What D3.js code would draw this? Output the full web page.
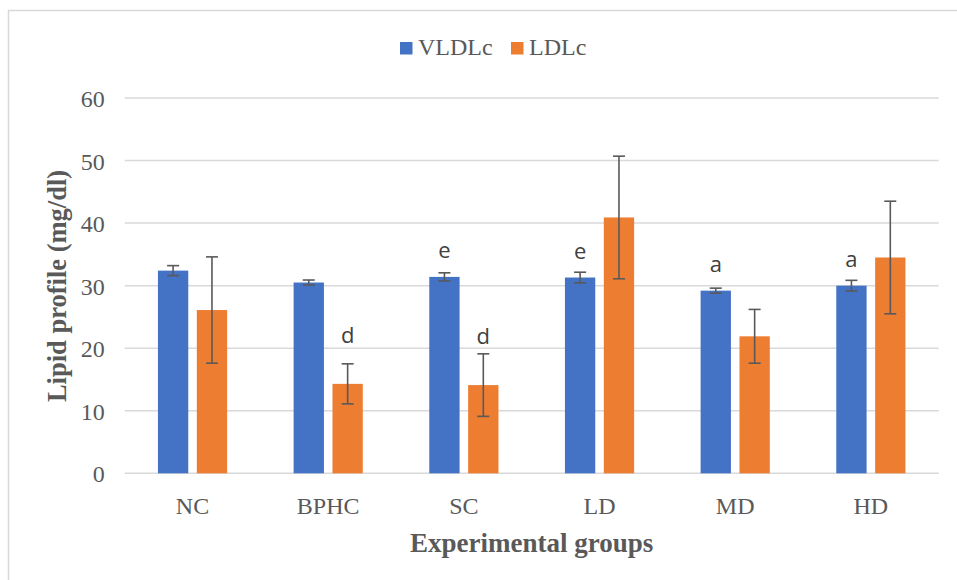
<!DOCTYPE html>
<html>
<head>
<meta charset="utf-8">
<script src="https://cdn.jsdelivr.net/npm/d3@7"></script>
<style>
  body { margin: 0; background: #fff; }
  svg { display: block; }
</style>
</head>
<body>
<svg id="chart"></svg>
<script>
// Chart size
const width = 957;
const height = 580;

// Data
const groups = ["NC", "BPHC", "SC", "LD", "MD", "HD"];
const seriesNames = ["VLDLc", "LDLc"];
const vldlc = [32.4, 30.5, 31.4, 31.3, 29.2, 30.0];
const vldlcErr = [0.8, 0.4, 0.65, 0.85, 0.4, 0.85];
const ldlc = [26.1, 14.3, 14.1, 40.9, 21.9, 34.5];
const ldlcErr = [8.5, 3.2, 5.0, 9.8, 4.3, 9.0];
const vldlcLetters = ["", "", "e", "e", "a", "a"];
const ldlcLetters = ["", "d", "d", "", "", ""];
const yTicks = [0, 10, 20, 30, 40, 50, 60];

const colors = { VLDLc: "#4472C4", LDLc: "#ED7D31" };
const serif = "'Liberation Serif', 'Times New Roman', serif";

// Build rows for drawing
const rows = groups.map((g, i) => ({
    group: g,
    bars: [
        { key: "VLDLc", value: vldlc[i], err: vldlcErr[i], letter: vldlcLetters[i], lift: 18.5 },
        { key: "LDLc", value: ldlc[i], err: ldlcErr[i], letter: ldlcLetters[i], lift: 41 }
    ]
}));

const margin = { top: 98, right: 18.3, bottom: 106.7, left: 124.7 };

const svg = d3.select("#chart")
    .attr("width", width)
    .attr("height", height);

// Outer chart frame (runs off the right and bottom edges)
svg.append("rect")
    .attr("x", 8.5).attr("y", 10.5)
    .attr("width", 1000).attr("height", 1000)
    .attr("fill", "none")
    .attr("stroke", "#D9D9D9")
    .attr("stroke-width", 1.5);

// Scales
const x0 = d3.scaleBand()
    .domain(groups)
    .range([margin.left, width - margin.right])
    .paddingInner(0.49)
    .paddingOuter(0.245);

const x1 = d3.scaleBand()
    .domain(seriesNames)
    .range([0, x0.bandwidth()])
    .paddingInner(0.22);

const y = d3.scaleLinear()
    .domain([0, 60])
    .range([height - margin.bottom, margin.top]);

// Gridlines
svg.append("g")
    .selectAll("line")
    .data(yTicks)
    .enter().append("line")
    .attr("x1", margin.left)
    .attr("x2", width - margin.right)
    .attr("y1", d => y(d))
    .attr("y2", d => y(d))
    .attr("stroke", "#D9D9D9")
    .attr("stroke-width", 1.5);

// Y axis labels
const yAxis = svg.append("g")
    .attr("transform", `translate(${margin.left - 20},0)`)
    .call(d3.axisLeft(y).tickValues(yTicks).tickSize(0).tickPadding(0));
yAxis.select(".domain").remove();
yAxis.selectAll("text")
    .attr("font-family", serif)
    .attr("font-size", 24)
    .attr("fill", "#595959")
    .attr("dy", "0.36em");

// X axis labels
const xAxis = svg.append("g")
    .attr("transform", `translate(0,${height - margin.bottom})`)
    .call(d3.axisBottom(x0).tickSize(0).tickPadding(0));
xAxis.select(".domain").remove();
xAxis.selectAll("text")
    .attr("font-family", serif)
    .attr("font-size", 24)
    .attr("fill", "#595959")
    .attr("dy", 0)
    .attr("y", 41);

// Bars
const groupSel = svg.append("g")
    .selectAll("g")
    .data(rows)
    .enter().append("g")
    .attr("transform", d => `translate(${x0(d.group)},0)`);

groupSel.selectAll("rect")
    .data(d => d.bars)
    .enter().append("rect")
    .attr("x", d => x1(d.key))
    .attr("width", x1.bandwidth())
    .attr("y", d => y(d.value))
    .attr("height", d => y(0) - y(d.value))
    .attr("fill", d => colors[d.key]);

// Error bars
const err = groupSel.selectAll("g.err")
    .data(d => d.bars)
    .enter().append("g")
    .attr("class", "err")
    .attr("stroke", "#595959")
    .attr("stroke-width", 1.6);

err.append("line")
    .attr("x1", d => x1(d.key) + x1.bandwidth() / 2)
    .attr("x2", d => x1(d.key) + x1.bandwidth() / 2)
    .attr("y1", d => y(d.value + d.err))
    .attr("y2", d => y(d.value - d.err));

err.selectAll("line.cap")
    .data(d => [d.value + d.err, d.value - d.err].map(v => ({ key: d.key, v })))
    .enter().append("line")
    .attr("class", "cap")
    .attr("x1", d => x1(d.key) + x1.bandwidth() / 2 - 6)
    .attr("x2", d => x1(d.key) + x1.bandwidth() / 2 + 6)
    .attr("y1", d => y(d.v))
    .attr("y2", d => y(d.v));

// Significance letters
groupSel.selectAll("text.sig")
    .data(d => d.bars.filter(b => b.letter))
    .enter().append("text")
    .attr("class", "sig")
    .attr("x", d => x1(d.key) + x1.bandwidth() / 2)
    .attr("y", d => y(d.value) - d.lift)
    .attr("text-anchor", "middle")
    .attr("font-family", "'Open Sans', 'Liberation Sans', sans-serif")
    .attr("font-size", 22)
    .attr("fill", "#404040")
    .text(d => d.letter);

// Legend
const legend = svg.append("g")
    .selectAll("g")
    .data(seriesNames)
    .enter().append("g")
    .attr("transform", (d, i) => `translate(${[400, 511][i]},0)`);

legend.append("rect")
    .attr("x", 0).attr("y", 42)
    .attr("width", 12.5).attr("height", 12.5)
    .attr("fill", d => colors[d]);

legend.append("text")
    .attr("x", 18).attr("y", 55)
    .attr("font-family", serif)
    .attr("font-size", 24)
    .attr("fill", "#595959")
    .text(d => d);

// Axis titles
svg.append("text")
    .attr("x", (margin.left + width - margin.right) / 2)
    .attr("y", 552)
    .attr("text-anchor", "middle")
    .attr("font-family", serif)
    .attr("font-weight", "bold")
    .attr("font-size", 27)
    .attr("fill", "#595959")
    .text("Experimental groups");

svg.append("text")
    .attr("transform", "translate(66,286) rotate(-90)")
    .attr("text-anchor", "middle")
    .attr("font-family", serif)
    .attr("font-weight", "bold")
    .attr("font-size", 26.5)
    .attr("fill", "#595959")
    .text("Lipid profile (mg/dl)");
</script>
</body>
</html>
